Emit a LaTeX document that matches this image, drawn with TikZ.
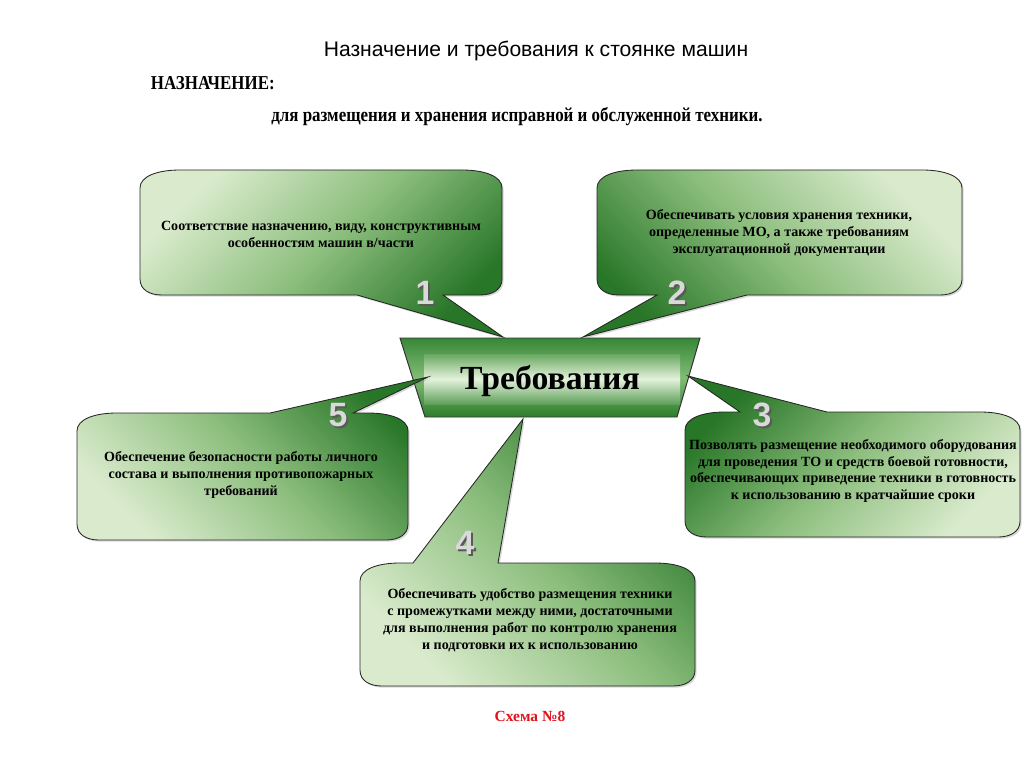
\documentclass[tikz,border=0pt]{standalone}
\usepackage{fontspec}
\setmainfont{Liberation Serif}
\setsansfont{Liberation Sans}
\newfontfamily\narrowserif[FakeStretch=0.86]{Liberation Serif}
\usetikzlibrary{shadows}

\definecolor{leafdark}{RGB}{40,118,40}
\definecolor{leafmid}{RGB}{140,190,125}
\definecolor{leaflight}{RGB}{218,235,205}
\definecolor{schemered}{RGB}{225,20,30}

\tikzset{
  callout/.style={draw=black!85, line width=0.6pt,
    drop shadow={shadow xshift=1.2pt, shadow yshift=-1.2pt, opacity=0.3}},
  note/.style={font=\bfseries\fontsize{10}{12}\selectfont, align=center, text=black},
  numshadow/.style={font=\sffamily\bfseries\fontsize{24}{24}\selectfont, text=black!65},
  numlabel/.style={font=\sffamily\bfseries\fontsize{24}{24}\selectfont, text=black!15},
}

\begin{document}
\begin{tikzpicture}[x=0.025cm, y=-0.025cm]
    \useasboundingbox[fill=white] (0,0) rectangle (1024,768);

    % Headings
    \node[font=\sffamily\fontsize{15}{18}\selectfont] (title) at (536,51) {Назначение и требования к стоянке машин};
    \node[anchor=west, font=\narrowserif\bfseries\fontsize{14}{16}\selectfont] (purpose) at (146,83) {НАЗНАЧЕНИЕ:};
    \node[font=\narrowserif\bfseries\fontsize{14}{16}\selectfont] (purposetext) at (517,117) {для размещения и хранения исправной и обслуженной техники.};

    % Central trapezium
    \path[draw=black!80, line width=0.7pt, top color={rgb,255:red,55;green,135;blue,55},
          bottom color={rgb,255:red,45;green,125;blue,45}, middle color={rgb,255:red,130;green,188;blue,118}]
        (400,338) -- (700,338) -- (677,417) -- (425,417) -- cycle;
    \path[top color={rgb,255:red,105;green,168;blue,96}, bottom color={rgb,255:red,95;green,160;blue,90},
          middle color={rgb,255:red,228;green,242;blue,220}]
        (424,354) rectangle (680,404);
    \node[font=\bfseries\fontsize{24}{28}\selectfont] (req) at (550,381) {Требования};

    % Callout 1
    \path[callout, top color=leaflight, bottom color=leafdark, middle color=leafmid, shading angle=45]
        (140,188) .. controls (140,176) and (158,170) .. (180,170)
        -- (462,170) .. controls (484,170) and (502,176) .. (502,188)
        -- (502,279) .. controls (502,290) and (492,295) .. (480,295)
        -- (443,295) -- (503,337) -- (357,295)
        -- (162,295) .. controls (150,295) and (140,290) .. (140,279) -- cycle;
    % Callout 2
    \path[callout, top color=leaflight, bottom color=leafdark, middle color=leafmid, shading angle=-45]
        (597,188) .. controls (597,176) and (615,170) .. (637,170)
        -- (922,170) .. controls (944,170) and (962,176) .. (962,188)
        -- (962,279) .. controls (962,290) and (952,295) .. (940,295)
        -- (747,295) -- (583,337) -- (657,295)
        -- (619,295) .. controls (607,295) and (597,290) .. (597,279) -- cycle;
    % Callout 3
    \path[callout, top color=leaflight, bottom color=leafdark, middle color=leafmid, shading angle=-135]
        (685,430) .. controls (685,418) and (703,412) .. (725,412)
        -- (740,412) -- (688,376) -- (827,412)
        -- (980,412) .. controls (1002,412) and (1020,418) .. (1020,430)
        -- (1020,521) .. controls (1020,532) and (1010,537) .. (998,537)
        -- (707,537) .. controls (695,537) and (685,532) .. (685,521) -- cycle;
    % Callout 4
    \path[callout, top color=leaflight, bottom color=leafdark, middle color=leafmid, shading angle=135]
        (360,581) .. controls (360,569) and (378,563) .. (400,563)
        -- (413,563) -- (523,419) -- (498,563)
        -- (655,563) .. controls (677,563) and (695,569) .. (695,581)
        -- (695,670) .. controls (695,681) and (685,686) .. (673,686)
        -- (382,686) .. controls (370,686) and (360,681) .. (360,670) -- cycle;
    % Callout 5
    \path[callout, top color=leaflight, bottom color=leafdark, middle color=leafmid, shading angle=135]
        (77,431) .. controls (77,419) and (95,413) .. (117,413)
        -- (270,413) -- (428,377) -- (353,413)
        -- (368,413) .. controls (390,413) and (408,419) .. (408,431)
        -- (408,524) .. controls (408,535) and (398,540) .. (386,540)
        -- (99,540) .. controls (87,540) and (77,535) .. (77,524) -- cycle;

    % Callout texts
    \node[note] (t1) at (321,234) {Соответствие назначению, виду, конструктивным\\особенностям машин в/части};
    \node[note] (t2) at (779,233) {Обеспечивать условия хранения техники,\\определенные МО, а также требованиям\\эксплуатационной документации};
    \node[note] (t3) at (853,471) {Позволять размещение необходимого оборудования\\для проведения ТО и средств боевой готовности,\\обеспечивающих приведение техники в готовность\\к использованию в кратчайшие сроки};
    \node[note] (t4) at (530,620) {Обеспечивать удобство размещения техники\\с промежутками между ними, достаточными\\для выполнения работ по контролю хранения\\и подготовки их к использованию};
    \node[note] (t5) at (241,475) {Обеспечение безопасности работы личного\\состава и выполнения противопожарных\\требований};

    % Numbers
    \foreach \n/\x/\y in {1/425/293, 2/677/293, 3/762/415, 4/465/543, 5/338/415} {
        \node[numshadow] (s\n) at ({\x+2},{\y+2}) {\n};
        \node[numlabel] (n\n) at (\x,\y) {\n};
    }

    \node[font=\bfseries\fontsize{11}{13}\selectfont, text=schemered] (scheme) at (530,716) {Схема №8};
\end{tikzpicture}
\end{document}
